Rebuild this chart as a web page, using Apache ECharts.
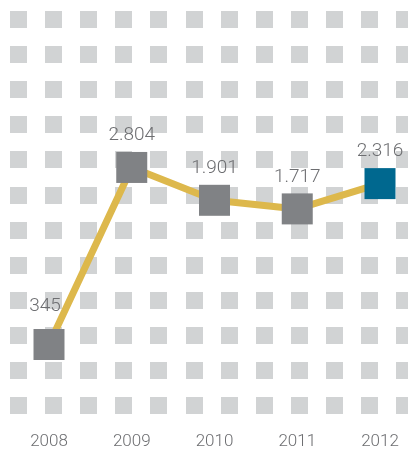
<!DOCTYPE html>
<html>
<head>
<meta charset="utf-8">
<script src="https://cdn.jsdelivr.net/npm/echarts@6/dist/echarts.min.js"></script>
<style>
html,body{margin:0;padding:0;background:#fff;}
#chart{width:408px;height:452px;}
</style>
</head>
<body>
<div id="chart"></div>
<script>
var years = ['2008', '2009', '2010', '2011', '2012'];
var values = [345, 2804, 1901, 1717, 2316];

function fmt(v) {
  if (v < 1000) return String(v);
  var t = Math.floor(v / 1000), r = v % 1000;
  return t + '.' + String(r).padStart(3, '0');
}

// decorative background tile pattern
var bg = [];
for (var i = 0; i < 12; i++) {
  for (var j = 0; j < 12; j++) {
    bg.push({
      type: 'rect',
      silent: true,
      z: -10,
      shape: { x: Math.round(10 + 35.1 * i), y: Math.round(11 + 35.1 * j), width: 17, height: 17 },
      style: { fill: '#d1d3d4' }
    });
  }
}

var lastIdx = values.length - 1;
var seriesData = values.map(function (v, i) {
  var item = { value: v };
  if (i === lastIdx) item.itemStyle = { color: '#00688f' };
  if (i === 0) item.label = { offset: [-4, -6] };
  return item;
});

var chart = echarts.init(document.getElementById('chart'), null, { renderer: 'canvas' });
chart.setOption({
  animation: false,
  backgroundColor: '#ffffff',
  graphic: { elements: bg },
  grid: { left: 49, right: 28, top: 60, bottom: 25 },
  xAxis: {
    type: 'category',
    data: years,
    boundaryGap: false,
    axisLine: { show: false },
    axisTick: { show: false },
    splitLine: { show: false },
    axisLabel: {
      margin: 6,
      color: '#6d6e71',
      fontFamily: 'Roboto',
      fontWeight: 300,
      fontSize: 17
    }
  },
  yAxis: {
    type: 'log',
    min: 130,
    max: 10000,
    show: false,
    splitLine: { show: false }
  },
  series: [{
    type: 'line',
    data: seriesData,
    symbol: 'rect',
    symbolSize: 31,
    showAllSymbol: true,
    lineStyle: { color: '#ddb84c', width: 7 },
    itemStyle: { color: '#808285' },
    label: {
      show: true,
      position: 'top',
      distance: 7,
      color: '#6d6e71',
      fontFamily: 'Roboto',
      fontWeight: 300,
      fontSize: 19,
      formatter: function (p) { return fmt(p.value); }
    },
    z: 5
  }]
});
</script>
</body>
</html>
